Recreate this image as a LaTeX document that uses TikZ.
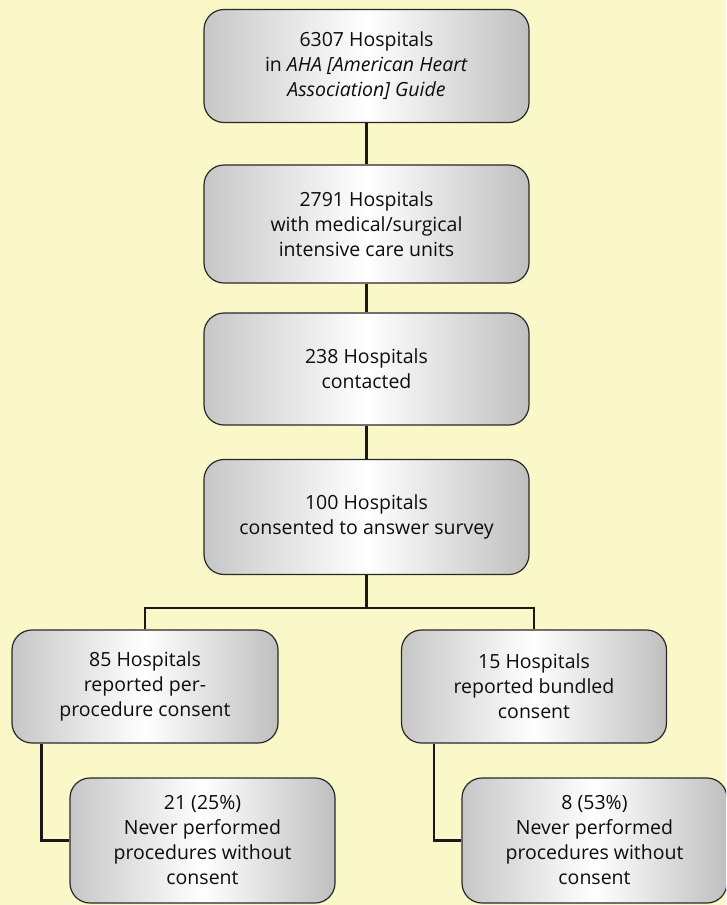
\documentclass[tikz,border=0pt]{standalone}
\usepackage{fontspec}
\setmainfont{Open Sans}
\definecolor{bg}{RGB}{250,247,200}
\definecolor{edge}{RGB}{40,40,40}
\begin{document}
\begin{tikzpicture}[x=1pt,y=-1pt,
  box/.style={draw=edge, line width=1.2pt, rounded corners=20pt,
    left color=black!22, right color=black!25, middle color=white,
    align=center, font=\fontsize{19.5}{25}\selectfont, text=black!95,
    inner sep=0pt},
  link/.style={draw=black!90, line width=2.4pt}]
\fill[bg] (0,0) rectangle (726,905);
\useasboundingbox (0,0) rectangle (726,905);
\begin{scope}
\clip (0,0) rectangle (726,905);
\node[box, minimum width=325pt, minimum height=113pt] (b1) at (366.5,66)
  {6307 Hospitals\\in \textit{AHA [American Heart}\\\textit{Association] Guide}};
\node[box, minimum width=325pt, minimum height=118pt] (b2) at (366.5,224)
  {2791 Hospitals\\with medical/surgical\\intensive care units};
\node[box, minimum width=325pt, minimum height=112pt] (b3) at (366.5,369)
  {238 Hospitals\\contacted};
\node[box, minimum width=325pt, minimum height=115pt] (b4) at (366.5,517)
  {100 Hospitals\\consented to answer survey};
\node[box, minimum width=266pt, minimum height=113pt] (l) at (145,686.5)
  {85 Hospitals\\reported per-\\procedure consent};
\node[box, minimum width=265pt, minimum height=113pt] (r) at (534,686.5)
  {15 Hospitals\\reported bundled\\consent};
\node[box, minimum width=265pt, minimum height=125pt] (bl) at (202.5,840.5)
  {21 (25\%)\\Never performed\\procedures without\\consent};
\node[box, minimum width=265pt, minimum height=125pt] (br) at (594.5,840.5)
  {8 (53\%)\\Never performed\\procedures without\\consent};
\coordinate (j) at (366.5,608);
\draw[link] (b1.south) -- (b2.north);
\draw[link] (b2.south) -- (b3.north);
\draw[link] (b3.south) -- (b4.north);
\draw[link] (b4.south) -- (j);
\draw[link] (j) -| (l.north);
\draw[link] (j) -| (r.north);
\draw[link] ([xshift=30pt]l.south west) |- (bl.west);
\draw[link] ([xshift=33pt]r.south west) |- (br.west);
\end{scope}
\end{tikzpicture}
\end{document}
